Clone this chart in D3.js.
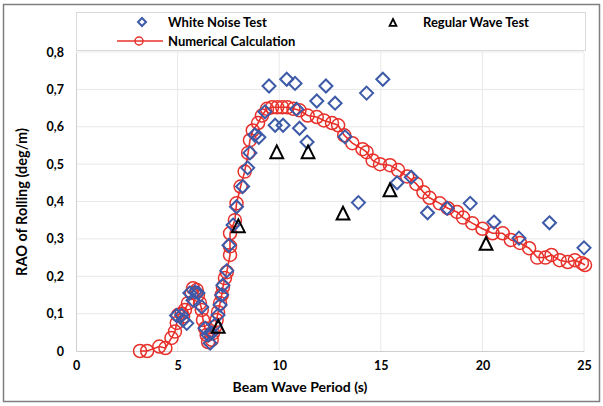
<!DOCTYPE html>
<html>
<head>
<meta charset="utf-8">
<script src="https://cdn.jsdelivr.net/npm/d3@7"></script>
<style>
  body { margin: 0; background: #fff; }
  svg { font-family: Lato, "Open Sans", sans-serif; font-weight: bold; }
</style>
</head>
<body>
<svg id="chart" width="603" height="406"></svg>
<script>
// white noise test (period s, RAO deg/m)
const whiteNoiseT = [4.95, 5.2, 5.27, 5.45, 5.6, 5.76, 5.86, 6.0, 6.19, 6.35, 6.5, 6.6, 6.68, 6.84, 6.99, 7.09, 7.17, 7.23, 7.42, 7.53, 7.73, 7.9, 8.2, 8.45, 8.56, 8.8, 9.0, 9.3, 9.5, 9.8, 10.19, 10.37, 10.78, 10.86, 11.0, 11.37, 11.85, 12.3, 12.75, 13.24, 13.9, 14.3, 15.1, 15.8, 16.5, 17.3, 18.26, 19.4, 20.57, 21.8, 23.3, 25.0];
const whiteNoiseV = [0.095, 0.096, 0.083, 0.074, 0.155, 0.136, 0.158, 0.155, 0.118, 0.061, 0.043, 0.021, 0.048, 0.07, 0.096, 0.123, 0.15, 0.176, 0.215, 0.283, 0.337, 0.386, 0.44, 0.49, 0.53, 0.578, 0.572, 0.64, 0.709, 0.604, 0.604, 0.727, 0.716, 0.647, 0.596, 0.559, 0.669, 0.709, 0.663, 0.573, 0.397, 0.69, 0.727, 0.45, 0.465, 0.37, 0.382, 0.395, 0.345, 0.302, 0.343, 0.276];

// regular wave test
const regularT = [7.0, 7.99, 9.88, 11.42, 13.14, 15.45, 20.18];
const regularV = [0.063, 0.332, 0.53, 0.53, 0.366, 0.428, 0.285];

// numerical calculation
const numT = [3.15, 3.5, 4.1, 4.4, 4.7, 4.87, 4.96, 5.02, 5.2, 5.27, 5.36, 5.51, 5.69, 5.76, 5.94, 6.0, 6.1, 6.19, 6.25, 6.35, 6.43, 6.5, 6.68, 6.74, 6.84, 6.92, 6.99, 7.09, 7.17, 7.23, 7.33, 7.42, 7.58, 7.58, 7.58, 7.82, 7.9, 8.1, 8.3, 8.47, 8.56, 8.7, 8.96, 9.15, 9.4, 9.65, 9.9, 10.15, 10.4, 10.7, 11.0, 11.4, 11.85, 12.2, 12.6, 12.9, 13.2, 13.6, 14.1, 14.3, 14.6, 14.96, 15.45, 15.85, 16.3, 16.75, 17.1, 17.4, 17.9, 18.3, 18.75, 19.05, 19.5, 20.0, 20.5, 21.0, 21.4, 21.85, 22.3, 22.7, 23.1, 23.4, 23.8, 24.2, 24.55, 24.9, 25.05];
const numV = [0.0, 0.0, 0.012, 0.008, 0.035, 0.052, 0.075, 0.096, 0.1, 0.092, 0.11, 0.128, 0.155, 0.168, 0.163, 0.15, 0.128, 0.11, 0.083, 0.061, 0.043, 0.024, 0.03, 0.048, 0.064, 0.083, 0.104, 0.128, 0.15, 0.171, 0.195, 0.211, 0.257, 0.28, 0.315, 0.35, 0.395, 0.44, 0.48, 0.53, 0.564, 0.59, 0.61, 0.63, 0.648, 0.652, 0.652, 0.652, 0.652, 0.648, 0.644, 0.63, 0.626, 0.617, 0.61, 0.604, 0.577, 0.556, 0.54, 0.532, 0.51, 0.5, 0.497, 0.484, 0.467, 0.447, 0.425, 0.41, 0.395, 0.382, 0.372, 0.357, 0.342, 0.327, 0.315, 0.315, 0.297, 0.289, 0.275, 0.25, 0.25, 0.257, 0.243, 0.238, 0.243, 0.235, 0.23];

const xTicks = [0, 5, 10, 15, 20, 25];
const yTicks = [0, 0.1, 0.2, 0.3, 0.4, 0.5, 0.6, 0.7, 0.8];

const svg = d3.select('#chart');
const x = d3.scaleLinear().domain([0, 25]).range([76, 584]);
const y = d3.scaleLinear().domain([0, 0.8]).range([351, 52]);

const blue = '#3d5aa8', red = '#e8302a';

// outer frame
svg.append('rect')
  .attr('x', 3.5).attr('y', 4.5).attr('width', 596).attr('height', 397)
  .attr('fill', 'none').attr('stroke', '#7f7f7f').attr('stroke-width', 1.5);

// grid
svg.append('g').selectAll('line').data(yTicks.slice(1)).join('line')
  .attr('x1', x(0)).attr('x2', x(25))
  .attr('y1', d => y(d)).attr('y2', d => y(d))
  .attr('stroke', '#e8e8e8');
svg.append('g').selectAll('line').data(xTicks.slice(1)).join('line')
  .attr('x1', d => x(d)).attr('x2', d => x(d))
  .attr('y1', y(0)).attr('y2', y(0.8))
  .attr('stroke', '#e8e8e8');

// axes
const xAxis = svg.append('g')
  .attr('transform', `translate(0,${y(0)})`)
  .call(d3.axisBottom(x).tickValues(xTicks).tickSize(0).tickPadding(10).tickFormat(d3.format('d')));
const yAxis = svg.append('g')
  .attr('transform', `translate(${x(0)},0)`)
  .call(d3.axisLeft(y).tickValues(yTicks).tickSize(0).tickPadding(12)
    .tickFormat(d => d === 0 ? '0' : d3.format('.1f')(d).replace('.', ',')));
[xAxis, yAxis].forEach(a => {
  a.select('.domain').attr('stroke', '#cfcfcf');
  a.selectAll('text').attr('font-size', 12.5).attr('fill', '#000')
    .attr('font-family', 'Lato, sans-serif').attr('font-weight', 'bold');
});

// numerical line + circles
svg.append('path')
  .datum(numT.map((t, i) => [t, numV[i]]))
  .attr('fill', 'none').attr('stroke', red).attr('stroke-width', 1.6)
  .attr('d', d3.line().x(d => x(d[0])).y(d => y(d[1])));
svg.append('g').selectAll('circle').data(numT.map((t, i) => [t, numV[i]])).join('circle')
  .attr('cx', d => x(d[0])).attr('cy', d => y(d[1])).attr('r', 6.5)
  .attr('fill', 'none').attr('stroke', red).attr('stroke-width', 1.5);

// white noise diamonds
const diamond = s => `M0,${-s}L${s},0L0,${s}L${-s},0Z`;
svg.append('g').selectAll('path').data(whiteNoiseT.map((t, i) => [t, whiteNoiseV[i]])).join('path')
  .attr('transform', d => `translate(${x(d[0])},${y(d[1])})`)
  .attr('d', diamond(6.5))
  .attr('fill', 'none').attr('stroke', blue).attr('stroke-width', 2);

// regular wave triangles
const tri = s => `M0,${-s}L${s * 0.85},${s * 0.7}L${-s * 0.85},${s * 0.7}Z`;
svg.append('g').selectAll('path').data(regularT.map((t, i) => [t, regularV[i]])).join('path')
  .attr('transform', d => `translate(${x(d[0])},${y(d[1])})`)
  .attr('d', tri(7.5))
  .attr('fill', 'none').attr('stroke', '#000').attr('stroke-width', 2);

// legend
const lg = svg.append('g');
lg.append('rect').attr('x', 76.5).attr('y', 12.5).attr('width', 509).attr('height', 38)
  .attr('fill', '#fff').attr('stroke', '#d9d9d9');
lg.append('path').attr('transform', 'translate(142,22)').attr('d', diamond(4))
  .attr('fill', 'none').attr('stroke', blue).attr('stroke-width', 2);
lg.append('text').attr('x', 168).attr('y', 26.5).attr('font-size', 13).text('White Noise Test');
lg.append('path').attr('transform', 'translate(393,23)').attr('d', tri(4))
  .attr('fill', 'none').attr('stroke', '#000').attr('stroke-width', 1.8);
lg.append('text').attr('x', 423).attr('y', 26.5).attr('font-size', 13).text('Regular Wave Test');
lg.append('line').attr('x1', 117).attr('x2', 163).attr('y1', 41).attr('y2', 41)
  .attr('stroke', red).attr('stroke-width', 1.6);
lg.append('circle').attr('cx', 139).attr('cy', 41).attr('r', 4)
  .attr('fill', 'none').attr('stroke', red).attr('stroke-width', 1.5);
lg.append('text').attr('x', 168).attr('y', 45.5).attr('font-size', 13).text('Numerical Calculation');

// axis titles
svg.append('text').attr('x', 300).attr('y', 392).attr('text-anchor', 'middle')
  .attr('font-size', 14).text('Beam Wave Period (s)');
svg.append('text').attr('transform', 'translate(27,202) rotate(-90)').attr('text-anchor', 'middle')
  .attr('font-size', 14.5).text('RAO of Rolling (deg/m)');
</script>
</body>
</html>
